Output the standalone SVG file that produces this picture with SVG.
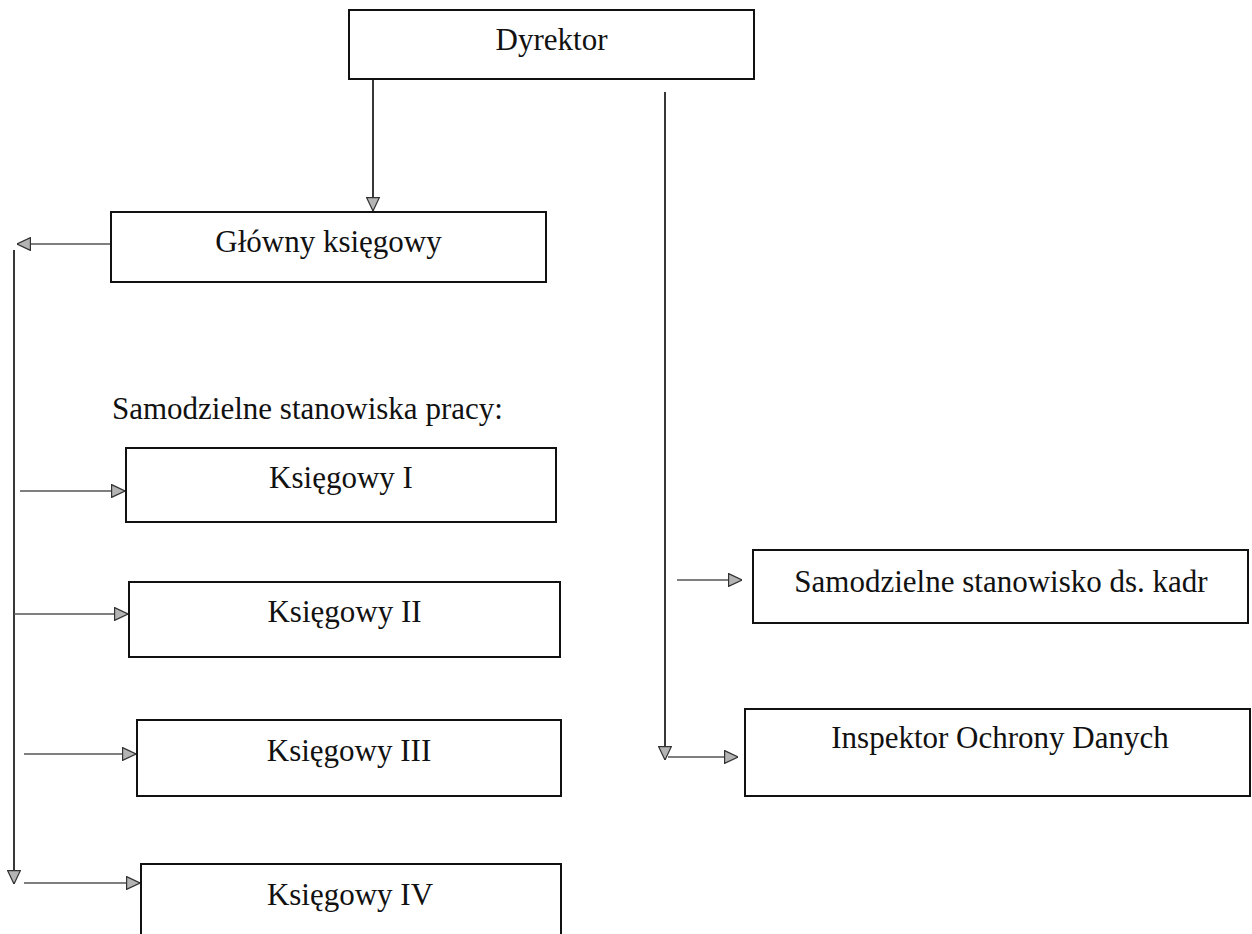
<svg xmlns="http://www.w3.org/2000/svg" width="1252" height="934" viewBox="0 0 1252 934">
  <defs>
    <style>
      .box { fill: #ffffff; stroke: #111111; stroke-width: 2; }
      .lbl { font-family: "Liberation Serif", "Times New Roman", serif; font-size: 31px; fill: #111111; }
      .mid { text-anchor: middle; }
      .vline { fill: none; stroke: #222222; stroke-width: 1.8; }
      .hline { fill: none; stroke: #555555; stroke-width: 1.4; }
    </style>
    <marker id="arr" viewBox="0 0 14 14" refX="14" refY="7" markerWidth="14" markerHeight="14" markerUnits="userSpaceOnUse" orient="auto">
      <path d="M0.6,0.6 L14,7 L0.6,13.4 Z" fill="#b4b4b4" stroke="#333333" stroke-width="1.2"/>
    </marker>
  </defs>
  <rect width="1252" height="934" fill="#ffffff"/>

  <g id="connectors">
    <line class="vline" x1="373" y1="79" x2="373" y2="211" marker-end="url(#arr)"/>
    <line class="hline" x1="110" y1="244" x2="17" y2="244" marker-end="url(#arr)"/>
    <line class="vline" x1="14" y1="250" x2="14" y2="884" marker-end="url(#arr)"/>
    <line class="hline" x1="20" y1="491" x2="125" y2="491" marker-end="url(#arr)"/>
    <line class="hline" x1="14" y1="614" x2="128" y2="614" marker-end="url(#arr)"/>
    <line class="hline" x1="24" y1="754" x2="136" y2="754" marker-end="url(#arr)"/>
    <line class="hline" x1="24" y1="883" x2="140" y2="883" marker-end="url(#arr)"/>
    <line class="vline" x1="665" y1="92" x2="665" y2="760" marker-end="url(#arr)"/>
    <line class="hline" x1="677" y1="580" x2="742" y2="580" marker-end="url(#arr)"/>
    <line class="hline" x1="668" y1="757" x2="738" y2="757" marker-end="url(#arr)"/>
  </g>

  <g id="dyrektor">
    <rect class="box" x="349" y="10" width="405" height="69"/>
    <text class="lbl mid" x="551.5" y="50">Dyrektor</text>
  </g>

  <g id="glowny-ksiegowy">
    <rect class="box" x="111" y="212" width="435" height="70"/>
    <text class="lbl mid" x="328.5" y="252">Główny księgowy</text>
  </g>

  <g id="label-samodzielne">
    <text class="lbl" x="112" y="419">Samodzielne stanowiska pracy:</text>
  </g>

  <g id="ksiegowy-1">
    <rect class="box" x="126" y="448" width="430" height="74"/>
    <text class="lbl mid" x="341" y="488">Księgowy I</text>
  </g>

  <g id="ksiegowy-2">
    <rect class="box" x="129" y="582" width="431" height="75"/>
    <text class="lbl mid" x="344.5" y="622">Księgowy II</text>
  </g>

  <g id="ksiegowy-3">
    <rect class="box" x="137" y="720" width="424" height="76"/>
    <text class="lbl mid" x="349" y="761">Księgowy III</text>
  </g>

  <g id="ksiegowy-4">
    <rect class="box" x="141" y="864" width="420" height="90"/>
    <text class="lbl mid" x="350" y="905">Księgowy IV</text>
  </g>

  <g id="kadry">
    <rect class="box" x="753" y="550" width="495" height="73"/>
    <text class="lbl mid" x="1001" y="592">Samodzielne stanowisko ds. kadr</text>
  </g>

  <g id="iod">
    <rect class="box" x="745" y="709" width="505" height="87"/>
    <text class="lbl mid" x="1000" y="748">Inspektor Ochrony Danych</text>
  </g>
</svg>
